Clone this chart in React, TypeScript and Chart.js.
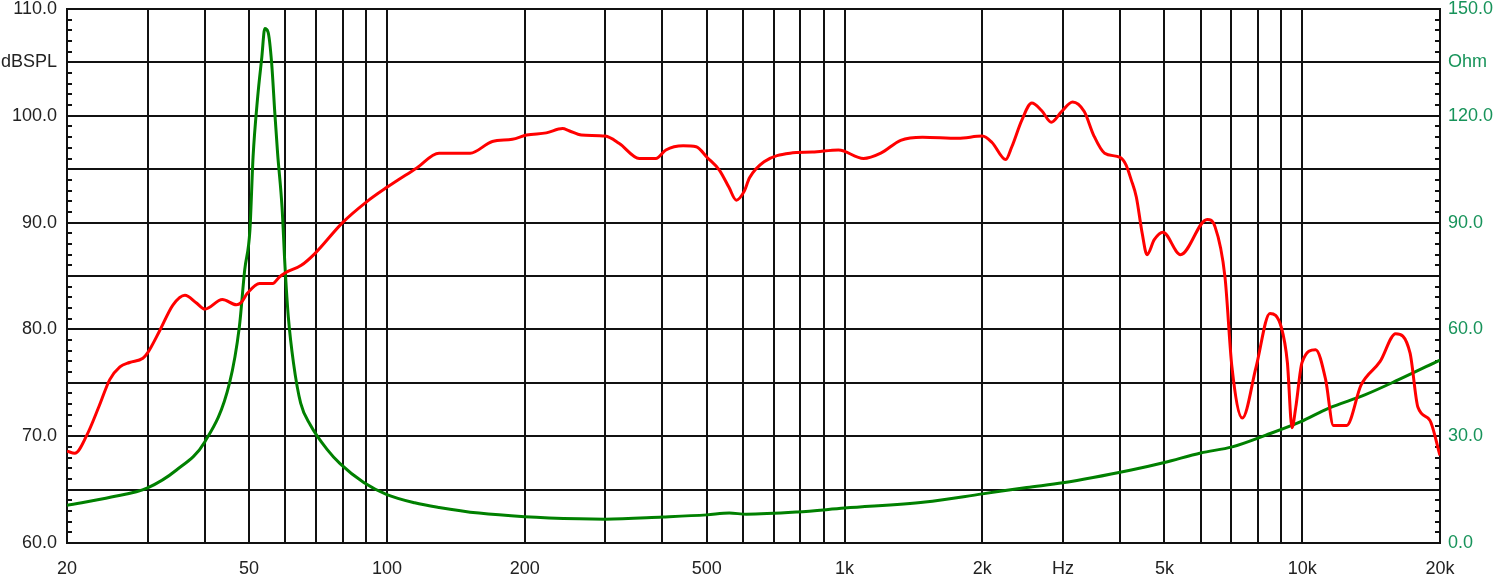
import React, { useEffect, useRef } from 'react';
import { Chart, registerables } from 'chart.js';

Chart.register(...registerables);

// SPL response (Hz -> dB SPL)
const splFreq = [
  20, 20.8, 22.1, 23.5, 24.8, 26.1, 27.4, 29.3, 30, 31.9, 34.1, 36.2, 38.3, 40, 43.7, 46.9, 48, 49.6,
  52.7, 56.3, 58.2, 60, 65, 69.6, 80, 90, 100, 116, 130, 152, 170, 188, 202, 223, 242, 250, 266, 300,
  322, 356, 387, 407, 444, 474, 501, 533, 559, 580, 603, 620, 667, 760, 850, 970, 1100, 1200, 1326,
  1480, 1770, 2000, 2100, 2250, 2320, 2440, 2565, 2694, 2830, 2980, 3150, 3340, 3500, 3700, 4000,
  4120, 4230, 4340, 4470, 4580, 4750, 4960, 5420, 6200, 6450, 6780, 7020, 7400, 7930, 8500, 9000,
  9280, 9500, 9680, 9990, 10700, 11250, 11700, 12500, 13450, 14800, 16000, 17200, 17900, 19000, 20000,
];
const splDb = [
  68.6, 68.4, 70.1, 72.8, 75.3, 76.5, 76.9, 77.3, 77.8, 79.9, 82.3, 83.2, 82.5, 81.9, 82.8, 82.3, 82.5, 83.4,
  84.3, 84.3, 84.9, 85.3, 86.0, 87.1, 90.0, 91.9, 93.3, 95.1, 96.5, 96.5, 97.6, 97.8, 98.2, 98.4, 98.8, 98.6, 98.2, 98.1,
  97.4, 96.0, 96.0, 96.8, 97.2, 97.1, 96.1, 94.9, 93.3, 92.1, 92.9, 94.2, 95.7, 96.5, 96.6, 96.8, 96.0, 96.5, 97.7,
  98.0, 97.9, 98.1, 97.5, 95.9, 97.1, 99.6, 101.2, 100.5, 99.4, 100.4, 101.3, 100.4, 98.2, 96.5, 96.1,
  95.4, 94.0, 92.4, 89.0, 87.0, 88.4, 89.1, 87.0, 90.3, 89.6, 84.9, 76.5, 71.7, 76.5, 81.5, 80.2,
  76.9, 70.8, 72.7, 76.9, 78.1, 75.3, 71.0, 71.0, 74.8, 77.0, 79.6, 77.8, 72.7, 71.5, 68.2,
];

// Impedance (Hz -> Ohm)
const impFreq = [
  20, 25, 30, 34.7, 40, 45.3, 47.6, 48.9, 50.2, 51, 52.2, 53.3, 54.1, 55, 56, 56.9, 57.7, 59, 59.9,
  60.9, 62.5, 64.8, 68, 74, 79, 89, 100, 115, 130, 159, 200, 263, 300, 400, 500, 560, 610, 788, 1000, 1500,
  2000, 2500, 3000, 4230, 5000, 6000, 7030, 8330, 9900, 11440, 13700, 16200, 20000,
];
const impOhm = [
  10.6, 12.9, 15.5, 20.5, 28.4, 44.9, 60.7, 76.7, 87.9, 108.4, 125.3, 136.5, 144.5, 143.5, 134.8, 120.8, 109.5, 94.4, 77.6,
  63.5, 50.6, 39.3, 33.2, 26.3, 22.3, 17.0, 13.6, 11.3, 10.0, 8.4, 7.4, 6.8, 6.7, 7.3, 7.9, 8.4, 8.1, 8.7, 9.8, 11.5,
  13.8, 15.6, 16.9, 20.5, 22.6, 25.3, 27.0, 30.3, 34.0, 37.9, 41.6, 45.8, 51.4,
];

// Axis ticks
const xGridFreqs = [
  20, 30, 40, 50, 60, 70, 80, 90, 100, 200, 300, 400, 500, 600, 700, 800, 900, 1000,
  2000, 3000, 4000, 5000, 6000, 7000, 8000, 9000, 10000, 20000,
];
const xLabelFreqs = [20, 50, 100, 200, 500, 1000, 2000, 3000, 5000, 10000, 20000];
const xLabelTexts = ['20', '50', '100', '200', '500', '1k', '2k', 'Hz', '5k', '10k', '20k'];
const leftLabelValues = [60, 70, 80, 90, 100, 105, 110];
const leftLabelTexts = ['60.0', '70.0', '80.0', '90.0', '100.0', 'dBSPL', '110.0'];
const rightLabelValues = [0, 30, 60, 90, 120, 135, 150];
const rightLabelTexts = ['0.0', '30.0', '60.0', '90.0', '120.0', 'Ohm', '150.0'];

const FONT = { family: 'Arial, "Liberation Sans", sans-serif', size: 18 };
const GRID = '#111111';
const GREEN_TEXT = '#17935a';

const minorTicks = {
  id: 'minorTicks',
  beforeDatasetsDraw(chart: any) {
    const { ctx, chartArea, scales } = chart;
    const y = scales.y;
    const y2 = scales.y2;
    ctx.save();
    ctx.strokeStyle = GRID;
    ctx.lineWidth = 2;
    ctx.beginPath();
    for (let v = 61; v < 110; v++) {
      if (v % 5 === 0) continue;
      const py = Math.round(y.getPixelForValue(v));
      ctx.moveTo(chartArea.left, py);
      ctx.lineTo(chartArea.left + 5, py);
    }
    for (let v = 3; v < 150; v += 3) {
      if (v % 15 === 0) continue;
      const py = Math.round(y2.getPixelForValue(v));
      ctx.moveTo(chartArea.right, py);
      ctx.lineTo(chartArea.right - 5, py);
    }
    ctx.stroke();
    ctx.restore();
  },
};

export default function App() {
  const ref = useRef<HTMLCanvasElement>(null);
  useEffect(() => {
    if (!ref.current) return;
    const chart = new Chart(ref.current, {
      type: 'line',
      data: {
        datasets: [
          {
            label: 'SPL',
            data: splFreq.map((f, i) => ({ x: f, y: splDb[i] })),
            borderColor: '#ff0000',
            borderWidth: 3,
            pointRadius: 0,
            cubicInterpolationMode: 'monotone',
            yAxisID: 'y',
          },
          {
            label: 'Impedance',
            data: impFreq.map((f, i) => ({ x: f, y: impOhm[i] })),
            borderColor: '#008000',
            borderWidth: 3,
            pointRadius: 0,
            cubicInterpolationMode: 'monotone',
            yAxisID: 'y2',
          },
        ],
      },
      options: {
        animation: false,
        responsive: false,
        events: [],
        layout: { padding: { top: 9, left: 0, right: 0, bottom: 0 } },
        plugins: { legend: { display: false }, tooltip: { enabled: false } },
        scales: {
          x: {
            type: 'logarithmic',
            min: 20,
            max: 20000,
            afterBuildTicks: (s: any) => {
              s.ticks = xGridFreqs.map((v) => ({ value: v }));
            },
            afterFit: (s: any) => {
              s.height = 42;
            },
            ticks: {
              autoSkip: false,
              maxRotation: 0,
              minRotation: 0,
              padding: 15,
              color: '#222',
              font: FONT,
              callback: (v: any) => {
                const i = xLabelFreqs.indexOf(Number(v));
                return i >= 0 ? xLabelTexts[i] : '';
              },
            },
            grid: { color: GRID, lineWidth: 2, drawTicks: false },
            border: { color: GRID, width: 2 },
          },
          y: {
            position: 'left',
            min: 60,
            max: 110,
            afterFit: (s: any) => {
              s.width = 67;
              s.paddingTop = 0;
              s.paddingBottom = 0;
            },
            ticks: {
              stepSize: 5,
              padding: 10,
              color: '#222',
              font: FONT,
              callback: (v: any) => {
                const i = leftLabelValues.indexOf(Number(v));
                return i >= 0 ? leftLabelTexts[i] : '';
              },
            },
            grid: { color: GRID, lineWidth: 2, drawTicks: false },
            border: { color: GRID, width: 2 },
          },
          y2: {
            position: 'right',
            min: 0,
            max: 150,
            afterFit: (s: any) => {
              s.width = 58;
              s.paddingTop = 0;
              s.paddingBottom = 0;
            },
            ticks: {
              stepSize: 15,
              padding: 8,
              color: GREEN_TEXT,
              font: FONT,
              callback: (v: any) => {
                const i = rightLabelValues.indexOf(Number(v));
                return i >= 0 ? rightLabelTexts[i] : '';
              },
            },
            grid: { display: false, drawTicks: false },
            border: { color: GRID, width: 2 },
          },
        },
      },
      plugins: [minorTicks],
    } as any);
    return () => chart.destroy();
  }, []);

  return (
    <div style={{ position: 'absolute', left: 0, top: 0, width: 1498, height: 585, background: '#fff' }}>
      <canvas ref={ref} width={1498} height={585} style={{ display: 'block' }} />
    </div>
  );
}
